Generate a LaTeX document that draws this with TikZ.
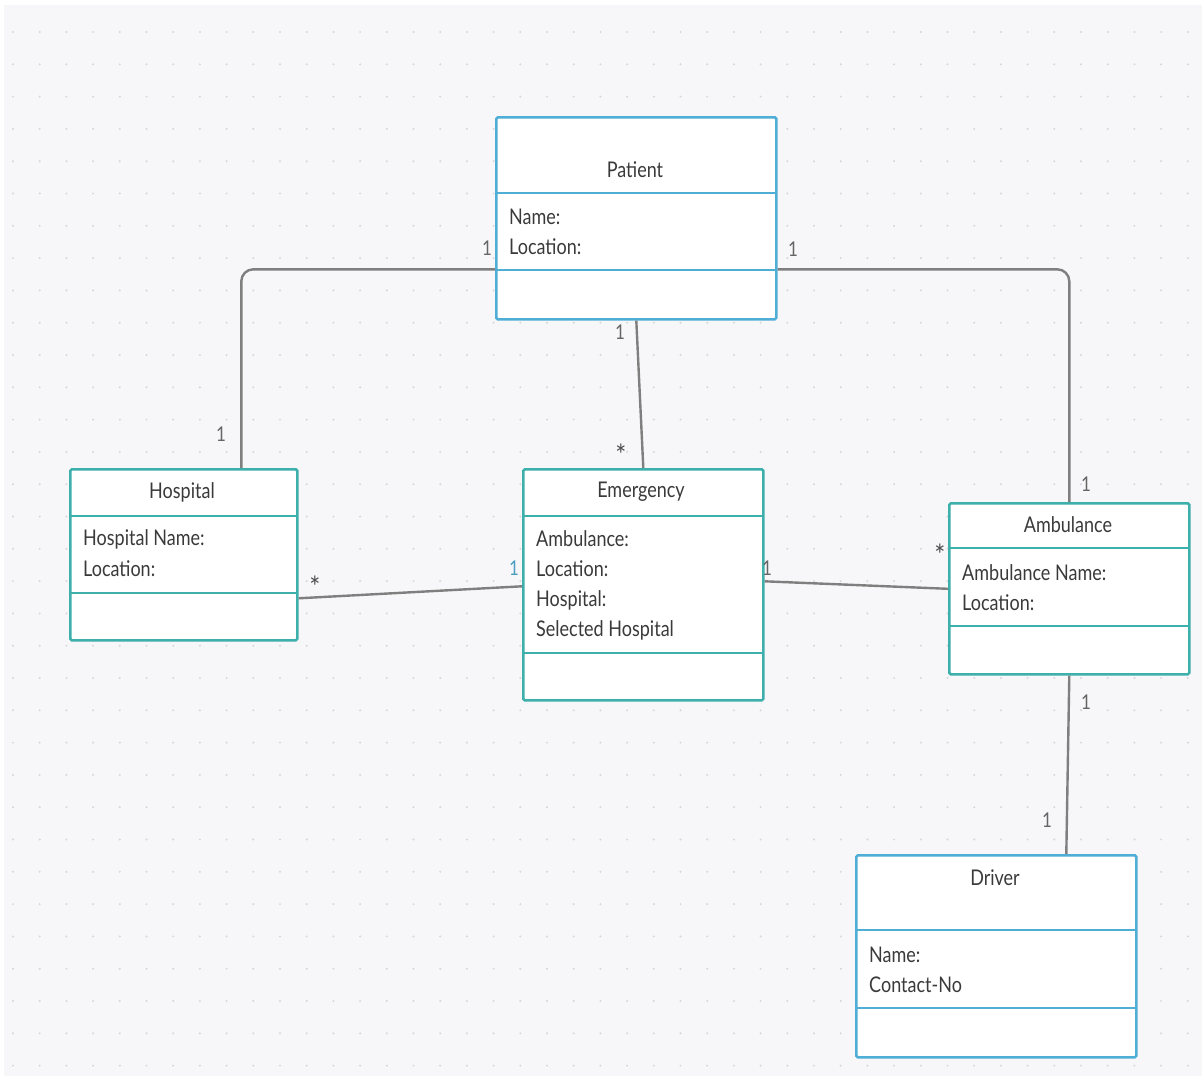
\documentclass[tikz,border=0pt]{standalone}
\usepackage{fontspec}
\setmainfont{Lato}
\definecolor{bg}{HTML}{F7F7F9}
\definecolor{dotc}{HTML}{D6D6DB}
\definecolor{bluebox}{HTML}{4FAED6}
\definecolor{tealbox}{HTML}{3DB0AC}
\definecolor{conng}{HTML}{7F7F7F}
\definecolor{txt}{HTML}{3A3A3A}
\definecolor{lblblue}{HTML}{4A9FC0}
\begin{document}
\begin{tikzpicture}[x=1pt,y=-1pt,
  umlbox/.style={draw=#1, line width=2.6pt, fill=white, rounded corners=1.5pt, anchor=north west, inner sep=0pt},
  divider/.style={draw=#1, line width=2.6pt},
  ttl/.style={font=\fontsize{18}{20}\selectfont, text=txt, yscale=1.2, transform shape, inner sep=0pt},
  attr/.style={font=\fontsize{18}{20}\selectfont, text=txt, yscale=1.2, transform shape, anchor=west, inner sep=0pt},
  conn/.style={draw=conng, line width=2.4pt},
  mult/.style={font=\fontsize{17}{19}\selectfont, text=conng!80!black, yscale=1.2, transform shape, inner sep=0pt},
  star/.style={font=\fontsize{26}{28}\selectfont, text=conng!60!black, yscale=1.1, transform shape, inner sep=0pt}]
\useasboundingbox (0,0) rectangle (1202,1076);
\fill[white] (0,0) rectangle (1202,1076);
\fill[bg] (4,5) rectangle (1202,1076);
\foreach \i in {0,...,44} {
  \foreach \j in {0,...,32} {
    \fill[dotc] ({13+26.7*\i},{32+32.3*\j}) circle (1.1pt);
  }
}
% Patient
\node[umlbox=bluebox, minimum width=280pt, minimum height=202pt] (pat) at (495,116) {};
\draw[divider=bluebox] (495,193) -- (775,193);
\draw[divider=bluebox] (495,270) -- (775,270);
\node[ttl] (patT) at (635,170) {Patient};
\node[attr] (patA1) at (509,217) {Name:};
\node[attr] (patA2) at (509,247) {Location:};
% Hospital
\node[umlbox=tealbox, minimum width=227pt, minimum height=171pt] (hos) at (69,468) {};
\draw[divider=tealbox] (69,516) -- (296,516);
\draw[divider=tealbox] (69,593) -- (296,593);
\node[ttl] (hosT) at (182,492) {Hospital};
\node[attr] (hosA1) at (83,539) {Hospital Name:};
\node[attr] (hosA2) at (83,569) {Location:};
% Emergency
\node[umlbox=tealbox, minimum width=240pt, minimum height=231pt] (emg) at (522,468) {};
\draw[divider=tealbox] (522,516) -- (762,516);
\draw[divider=tealbox] (522,653) -- (762,653);
\node[ttl] (emgT) at (641,492) {Emergency};
\node[attr] (emgA1) at (536,539) {Ambulance:};
\node[attr] (emgA2) at (536,569) {Location:};
\node[attr] (emgA3) at (536,600) {Hospital:};
\node[attr] (emgA4) at (536,630) {Selected Hospital};
% Ambulance
\node[umlbox=tealbox, minimum width=240pt, minimum height=171pt] (amb) at (948,502) {};
\draw[divider=tealbox] (948,548) -- (1188,548);
\draw[divider=tealbox] (948,626) -- (1188,626);
\node[ttl] (ambT) at (1068,525) {Ambulance};
\node[attr] (ambA1) at (962,573) {Ambulance Name:};
\node[attr] (ambA2) at (962,603) {Location:};
% Driver
\node[umlbox=bluebox, minimum width=280pt, minimum height=202pt] (drv) at (855,854) {};
\draw[divider=bluebox] (855,930) -- (1135,930);
\draw[divider=bluebox] (855,1008) -- (1135,1008);
\node[ttl] (drvT) at (995,878) {Driver};
\node[attr] (drvA1) at (869,955) {Name:};
\node[attr] (drvA2) at (869,985) {Contact-No};
% connectors
\draw[conn, rounded corners=12pt] ([yshift=-51pt]pat.west) -| ([xshift=57.5pt]hos.north);
\draw[conn, rounded corners=12pt] ([yshift=-51pt]pat.east) -| (amb.north);
\draw[conn] (pat.south) -- (emg.north);
\draw[conn] ([yshift=-43.5pt]hos.east) -- ([yshift=-1.5pt]emg.west);
\draw[conn] ([yshift=3.5pt]emg.east) -- (amb.west);
\draw[conn] (amb.south) -- ([xshift=70pt]drv.north);
% multiplicities
\node[mult] (m1) at (487,248) {1};
\node[mult] (m2) at (221,434) {1};
\node[mult] (m3) at (793,249) {1};
\node[mult] (m4) at (1086,484) {1};
\node[mult] (m5) at (620,332) {1};
\node[star] (m6) at (621,455) {*};
\node[star] (m7) at (315,587) {*};
\node[mult, text=lblblue] (m8) at (514,568) {1};
\node[mult] (m9) at (767,568) {1};
\node[star] (m10) at (940,555) {*};
\node[mult] (m11) at (1086,702) {1};
\node[mult] (m12) at (1047,820) {1};
\end{tikzpicture}
\end{document}
